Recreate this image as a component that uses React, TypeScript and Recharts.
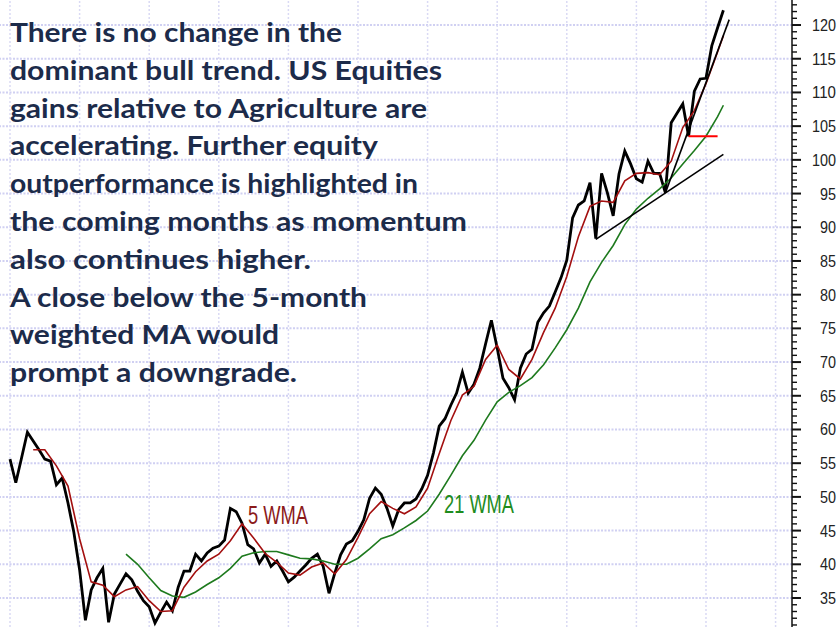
import React from 'react';
import { LineChart, Line, XAxis, YAxis, ReferenceLine } from 'recharts';

// Monthly ratio (US Equities / Agriculture), month index 0..123
const priceValues: number[] = [
  55.6, 52.1, 55.8, 59.6, 58.3, 57.0, 55.6, 55.3, 51.8, 52.8,
  49.1, 44.8, 39.2, 31.7, 36.2, 38.0, 39.4, 31.4, 35.6, 37.1,
  38.6, 37.7, 36.0, 34.6, 33.7, 31.3, 32.9, 34.4, 33.1, 36.6,
  39.0, 39.0, 41.5, 40.5, 41.7, 42.4, 42.7, 43.6, 48.3, 47.8,
  46.1, 42.9, 42.3, 40.2, 41.5, 39.7, 40.5, 39.0, 37.4, 38.1,
  39.0, 39.9, 40.9, 41.5, 39.7, 35.7, 38.7, 41.4, 43.0, 43.5,
  44.9, 46.6, 49.8, 51.3, 50.4, 48.3, 45.7, 48.1, 49.1, 49.1,
  49.7, 51.2, 53.2, 56.5, 60.5, 61.6, 63.6, 65.4, 68.5, 65.4,
  66.7, 69.1, 72.7, 76.2, 72.1, 67.6, 66.2, 64.4, 69.1, 71.2,
  71.9, 75.9, 77.3, 78.3, 80.4, 82.5, 85.1, 91.4, 93.3, 93.9,
  96.6, 88.3, 98.0, 95.1, 91.7, 97.9, 101.3, 99.4, 97.2, 96.7,
  99.8, 98.0, 98.0, 95.1, 105.5, 106.9, 108.3, 103.5, 110.2, 112.0,
  112.1, 116.9, 119.6, 122.2,
];

// 5-month WMA: [month index, value]
const wma5Points: [number, number][] = [
  [4, 57.0], [6, 57.0], [8, 54.6], [10, 51.6], [12, 43.8], [14, 37.4], [16, 36.9],
  [18, 35.2], [20, 36.2], [22, 36.7], [24, 34.6], [26, 33.0], [28, 33.1], [30, 36.6],
  [32, 38.9], [34, 40.5], [36, 41.5], [38, 43.5], [40, 46.0], [42, 43.9], [44, 41.6],
  [46, 40.3], [48, 38.7], [50, 38.4], [52, 39.6], [54, 40.2], [56, 38.6], [58, 40.7],
  [60, 44.0], [62, 47.5], [64, 49.3], [66, 48.3], [68, 47.5], [70, 48.5], [72, 51.3],
  [74, 56.4], [76, 61.3], [78, 65.1], [80, 66.4], [82, 70.4], [84, 72.5], [86, 68.9],
  [88, 67.5], [90, 70.4], [92, 74.4], [94, 78.0], [96, 82.7], [98, 88.6], [100, 93.1],
  [102, 93.9], [104, 93.7], [106, 96.9], [108, 98.0], [110, 98.1], [112, 97.8],
  [114, 99.8], [116, 104.8], [118, 107.3], [120, 111.3], [122, 116.0], [123, 118.4],
];

// 21-month WMA: [month index, value]
const wma21Points: [number, number][] = [
  [20, 41.5], [22, 40.0], [24, 38.0], [26, 36.1], [28, 35.3], [30, 35.1], [32, 35.9],
  [34, 37.0], [36, 38.0], [38, 39.4], [40, 41.2], [42, 41.7], [44, 41.9], [46, 41.9],
  [48, 41.4], [50, 40.9], [52, 40.8], [54, 40.5], [56, 40.0], [58, 40.0], [60, 40.9],
  [62, 42.3], [64, 43.8], [66, 44.4], [68, 45.4], [70, 46.5], [72, 47.9], [74, 50.4],
  [76, 53.2], [78, 56.1], [80, 58.4], [82, 61.4], [84, 64.1], [86, 65.5], [88, 66.5],
  [90, 67.7], [92, 69.6], [94, 72.1], [96, 74.8], [98, 78.0], [100, 81.9], [102, 84.8],
  [104, 87.3], [106, 90.4], [108, 92.7], [110, 94.3], [112, 95.7], [114, 97.3],
  [116, 99.4], [118, 101.4], [120, 103.5], [122, 106.4], [123, 108.1],
];

const supportTrend: [number, number][] = [[101, 88.2], [123, 100.8]];
const steepTrend: [number, number][] = [[113, 95.1], [124, 120.8]];
const redLevel: [number, number][] = [[117, 103.5], [122, 103.5]];

const yearGridMonths: number[] = [0, 12, 24, 36, 48, 60, 72, 84, 96, 108, 120, 132];
const majorLevels: number[] = [35, 40, 45, 50, 55, 60, 65, 70, 75, 80, 85, 90, 95, 100, 105, 110, 115, 120, 125];
const axisTicks: number[] = Array.from({ length: 96 }, (_, k) => 31 + k);

const commentary: string[] = [
  'There is no change in the',
  'dominant bull trend. US Equities',
  'gains relative to Agriculture are',
  'accelerating. Further equity',
  'outperformance is highlighted in',
  'the coming months as momentum',
  'also continues higher.',
  'A close below the 5-month',
  'weighted MA would',
  'prompt a downgrade.',
];
const commentaryWidths: number[] = [332, 432, 417, 368, 408, 457, 301, 357, 269, 287];

const toRows = (pts: [number, number][]) => pts.map(([i, v]) => ({ i, v }));
const priceRows = priceValues.map((v, i) => ({ i, v }));

const RightTick = (props: any) => {
  const { x, y, payload } = props;
  const v = Math.round(payload.value);
  const major = v % 5 === 0;
  return (
    <g>
      <line x1={x} x2={x + (major ? 9 : 5)} y1={y} y2={y} stroke="#111" strokeWidth={major ? 2 : 1.4} />
      {major && (
        <text
          x={836}
          y={y}
          dy={6}
          textAnchor="end"
          fontSize={16.5}
          fontFamily="'Liberation Sans Narrow', 'Liberation Sans', Arial, sans-serif"
          fill="#222"
          textLength={v >= 100 ? 24 : 16}
          lengthAdjust="spacingAndGlyphs"
        >
          {v}
        </text>
      )}
    </g>
  );
};

const lineCommon = { type: 'linear' as const, dot: false, activeDot: false, isAnimationActive: false, legendType: 'none' as const };

export default function App() {
  return (
    <div style={{ position: 'absolute', left: 0, top: 0, width: 839, height: 627, overflow: 'hidden', background: '#fff' }}>
      <div style={{ position: 'absolute', left: 0, top: -20, width: 839, height: 647 }}>
        <LineChart width={839} height={647} margin={{ top: 0, right: 0, bottom: 0, left: 0 }}>
          <XAxis type="number" dataKey="i" domain={[-1.724, 134.83]} allowDataOverflow hide />
          <YAxis
            orientation="right"
            type="number"
            domain={[30.7, 126.68]}
            allowDataOverflow
            ticks={axisTicks}
            interval={0}
            width={47}
            tickSize={0}
            tickMargin={0}
            tickLine={false}
            axisLine={{ stroke: '#111', strokeWidth: 1.5 }}
            tick={<RightTick />}
          />
          {majorLevels.map((lv) => (
            <ReferenceLine key={'h' + lv} y={lv} stroke="#d0d0f2" strokeWidth={2} strokeDasharray="2 1.5" ifOverflow="hidden" />
          ))}
          {yearGridMonths.map((m) => (
            <ReferenceLine key={'v' + m} x={m} stroke="#dadaf4" strokeWidth={1.5} strokeDasharray="2 2" ifOverflow="hidden" />
          ))}
          <Line {...lineCommon} data={priceRows} dataKey="v" stroke="#000" strokeWidth={2.8} />
          <Line {...lineCommon} data={toRows(wma21Points)} dataKey="v" stroke="#1e7a1e" strokeWidth={1.6} />
          <Line {...lineCommon} data={toRows(wma5Points)} dataKey="v" stroke="#a30f0f" strokeWidth={1.6} />
          <Line {...lineCommon} data={toRows(supportTrend)} dataKey="v" stroke="#000" strokeWidth={1.6} />
          <Line {...lineCommon} data={toRows(steepTrend)} dataKey="v" stroke="#000" strokeWidth={1.6} />
          <Line {...lineCommon} data={toRows(redLevel)} dataKey="v" stroke="#ff0000" strokeWidth={2} />
        </LineChart>
      </div>
      <svg width={839} height={627} style={{ position: 'absolute', left: 0, top: 0, pointerEvents: 'none' }}>
        {commentary.map((line, k) => (
          <text
            key={k}
            x={10}
            y={42 + k * 37.8}
            fontFamily="Lato, 'Open Sans', sans-serif"
            fontWeight={700}
            fontSize={26}
            fill="#1c2b4a"
            textLength={commentaryWidths[k]}
            lengthAdjust="spacingAndGlyphs"
          >
            {line}
          </text>
        ))}
        <text x={248} y={524} fontFamily="'Liberation Sans Narrow', 'Liberation Sans', sans-serif" fontSize={26} fill="#8b1a1a" textLength={60} lengthAdjust="spacingAndGlyphs">
          5 WMA
        </text>
        <text x={444} y={513} fontFamily="'Liberation Sans Narrow', 'Liberation Sans', sans-serif" fontSize={26} fill="#1e8c1e" textLength={70} lengthAdjust="spacingAndGlyphs">
          21 WMA
        </text>
      </svg>
    </div>
  );
}
